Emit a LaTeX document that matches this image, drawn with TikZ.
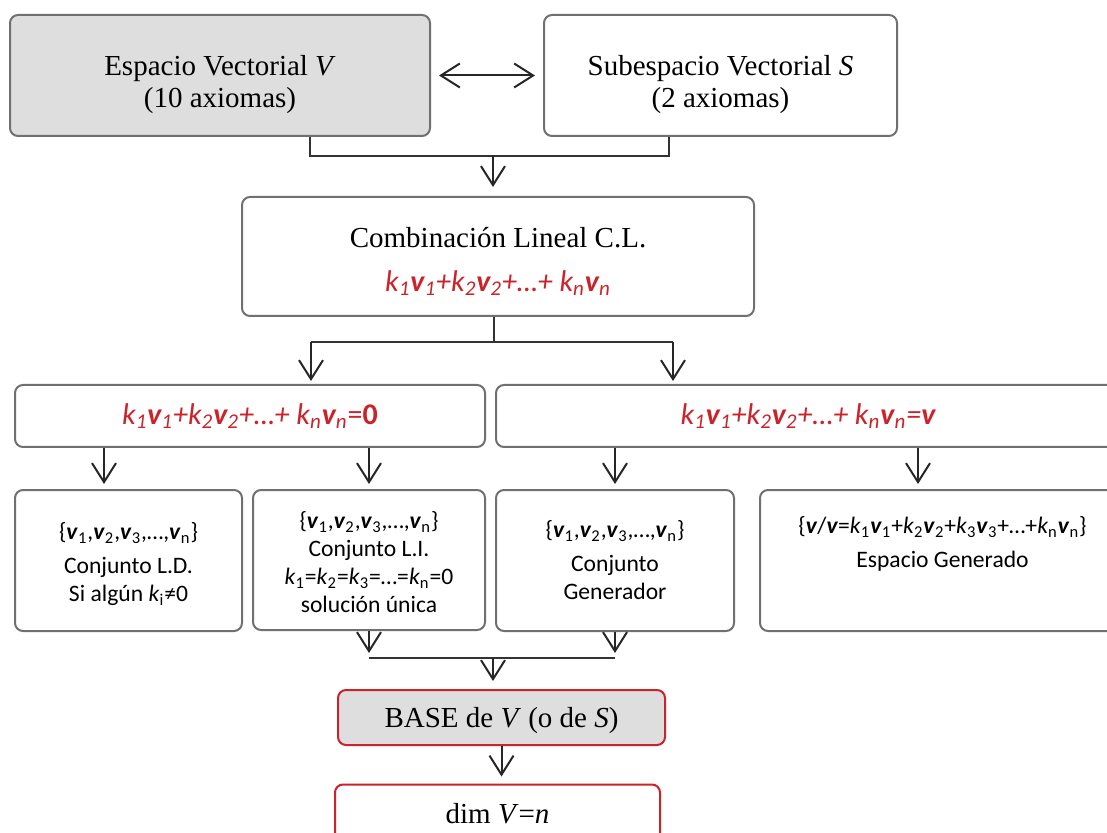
\documentclass[tikz,border=0pt]{standalone}
\usepackage{fontspec}
\setmainfont{Liberation Serif}
\newfontfamily\calibri{Carlito}
\usepackage{xcolor}
\usetikzlibrary{arrows.meta}
\usetikzlibrary{positioning}
\definecolor{boxgray}{HTML}{707070}
\definecolor{fillgray}{HTML}{DEDEDE}
\definecolor{formred}{HTML}{CC2229}
\newcommand{\vb}{\textbf{\textit{v}}}
\newcommand{\kk}{\textit{k}}
\newcommand{\sub}[1]{\textsubscript{#1}}
\newcommand{\topgap}[1]{\rule{0pt}{#1}}
\newcommand{\lincomb}{\kk\sub{1}\textbf{v}\sub{1}+\kk\sub{2}\textbf{v}\sub{2}+\ldots+ \kk\sub{n}\textbf{v}\sub{n}}
\tikzset{box/.style={draw=boxgray,line width=1pt,rounded corners=4pt,align=center,inner sep=0pt},
         shaded/.style={box,fill=fillgray},
         redbox/.style={box,draw=formred},
         serif/.style={font=\fontsize{14.5}{16}\selectfont},
         sans/.style={font=\calibri\fontsize{11.8}{14}\selectfont},
         formula/.style={text=formred,font=\calibri\itshape\fontsize{15}{18}\selectfont},
         arrow/.style={draw=black!85,line width=1pt,-{Straight Barb[length=9.5pt,width=12pt]}},
         twoway/.style={draw=black!85,line width=1pt,{Straight Barb[length=9.5pt,width=12pt]}-{Straight Barb[length=9.5pt,width=12pt]}},
         link/.style={draw=black!80,line width=0.6pt},
         }

\begin{document}
\begin{tikzpicture}[x=0.5pt,y=-0.5pt]
\useasboundingbox (0,0) rectangle (1107,833);
\clip (0,0) rectangle (1107,833);
% top row
\node[shaded,serif,minimum width=210pt,minimum height=60.5pt] (ev) at (220,75.5)
    {\topgap{19pt}Espacio Vectorial \textit{V}\\(10 axiomas)};
\node[box,serif,minimum width=176.5pt,minimum height=60.5pt] (sv) at (720.5,75.5)
    {\topgap{19pt}Subespacio Vectorial \textit{S}\\(2 axiomas)};
\node[box,serif,minimum width=256pt,minimum height=59.5pt] (cl) at (498,256.5)
    {\topgap{15pt}Combinación Lineal C.L.\\[6pt]{\color{formred}\calibri\itshape\fontsize{15}{18}\selectfont\lincomb}};
% the two equations
\node[box,formula,minimum width=235pt,minimum height=31pt] (eqz) at (250,416)
    {\lincomb\textup{=\textbf{0}}};
\node[box,formula,minimum width=312pt,minimum height=31pt] (eqv) at (808,416)
    {\lincomb=\textbf{v}};
% sets
\node[box,sans,minimum width=113.5pt,minimum height=70.5pt] (ld) at (128.5,560.5)
    {\topgap{12pt}\{\vb\sub{1},\vb\sub{2},\vb\sub{3},\ldots,\vb\sub{n}\}\\[3pt]Conjunto L.D.\\Si algún \kk\sub{i}≠0};
\node[box,sans,minimum width=116pt,minimum height=70pt] (li) at (369,560)
    {\topgap{11pt}\{\vb\sub{1},\vb\sub{2},\vb\sub{3},\ldots,\vb\sub{n}\}\\Conjunto L.I.\\\kk\sub{1}=\kk\sub{2}=\kk\sub{3}=\ldots=\kk\sub{n}=0\\solución única};
\node[box,sans,minimum width=119pt,minimum height=70.5pt] (cg) at (615,560.5)
    {\{\vb\sub{1},\vb\sub{2},\vb\sub{3},\ldots,\vb\sub{n}\}\\[3pt]Conjunto\\Generador};
\node[box,sans,minimum width=182.5pt,minimum height=70.5pt] (eg) at (942.5,560.5)
    {\{\vb/\vb=\kk\sub{1}\vb\sub{1}+\kk\sub{2}\vb\sub{2}+\kk\sub{3}\vb\sub{3}+\ldots+\kk\sub{n}\vb\sub{n}\}\\[3pt]Espacio Generado\\\strut};
% base and dimension
\node[redbox,fill=fillgray,serif,minimum width=163.5pt,minimum height=27.5pt] (base) at (501.5,717.5)
    {\topgap{13pt}BASE de \textit{V} (o de \textit{S})};
\node[redbox,serif,minimum width=162.5pt,minimum height=29pt] (dim) at (497.5,813.5)
    {dim \textit{V}=\textit{n}};

% connectors
\draw[twoway,shorten <=4pt,shorten >=4pt] (ev) -- (sv);
\coordinate (top join) at (493,156);
\draw[link] ([xshift=45pt]ev.south) |- (top join) -| ([xshift=-25.75pt]sv.south);
\draw[arrow,shorten >=4.5pt] (top join) -- (top join |- cl.north);

\coordinate (mid join) at (494,342);
\coordinate (mid left) at (311,342);
\coordinate (mid right) at (673,342);
\draw[link] (mid join |- cl.south) -- (mid join);
\draw[link] (mid left) -- (mid right);
\draw[arrow,shorten >=1.5pt] (mid left) -- (mid left |- eqz.north);
\draw[arrow,shorten >=1.5pt] (mid right) -- (mid right |- eqv.north);

\draw[arrow,shorten >=2.5pt] ([xshift=-12.25pt]ld.north |- eqz.south) -- ([xshift=-12.25pt]ld.north);
\draw[arrow,shorten >=2.5pt] (li.north |- eqz.south) -- (li.north);
\draw[arrow,shorten >=2.5pt] (cg.north |- eqv.south) -- (cg.north);
\draw[arrow,shorten >=2.5pt] ([xshift=-12.25pt]eg.north |- eqv.south) -- ([xshift=-12.25pt]eg.north);

\coordinate (low join) at (493,658);
\draw[arrow,shorten >=2.5pt] (li.south) -- (li.south |- low join);
\draw[arrow,shorten >=2.5pt] (cg.south) -- (cg.south |- low join);
\draw[link] (li.south |- low join) -- (cg.south |- low join);
\draw[arrow,shorten >=4pt] (low join) -- (low join |- base.north);
\draw[arrow,shorten >=3.5pt] (base.south) -- (base.south |- dim.north);
\end{tikzpicture}
\end{document}
